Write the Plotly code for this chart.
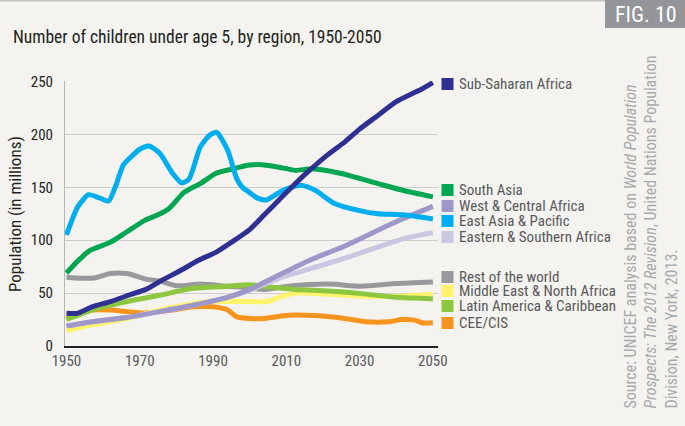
import plotly.graph_objects as go

# ---------------- data (millions of children under 5) ----------------
ssa_years = [1950, 1953, 1957, 1962, 1967, 1972, 1976, 1982, 1986, 1991, 1995, 2000, 2004, 2008, 2012, 2016, 2021, 2026, 2030, 2035, 2040, 2044, 2047, 2050]
ssa_vals = [31, 31, 37, 42, 48, 54, 62, 73, 81, 89, 98, 110, 124, 138, 152, 165, 180, 193, 205, 218, 231, 238, 243, 249]

sa_years = [1950, 1953, 1956.5, 1962, 1966.5, 1971.5, 1975, 1978, 1982, 1986.5, 1991, 1995.5, 2000, 2002.5, 2008, 2012.5, 2017, 2025, 2035, 2042, 2050]
sa_vals = [69, 80, 90.5, 98, 108, 119, 124, 130, 145, 153.5, 163.5, 167.5, 171, 171.5, 169, 166, 167.5, 163, 153.5, 147, 141]

wca_years = [1950, 1957, 1966.5, 1975.5, 1984.5, 1994, 2000, 2008, 2017, 2026, 2035, 2042, 2050]
wca_vals = [19, 23, 27, 32.5, 38.5, 46, 53.5, 67, 82, 94.5, 109.5, 120.5, 132]

eap_years = [1950, 1953, 1956, 1959, 1961.5, 1963.5, 1965.5, 1968, 1970, 1972.5, 1975.5, 1979, 1981.5, 1983.5, 1986.5, 1989, 1991, 1994, 1996.5, 1998, 2000, 2002, 2004.5, 2009, 2014, 2018, 2023, 2030, 2035, 2042, 2050]
eap_vals = [105, 131, 143, 140, 137, 152, 171, 180, 186, 189, 182, 163, 154, 158, 188, 199, 202, 185, 158, 150, 145, 140, 138, 147, 152, 147, 135, 128, 125, 124, 120]

esa_years = [1950, 1957, 1966.5, 1975.5, 1984.5, 1994, 2000, 2008, 2017, 2026, 2035, 2042, 2050]
esa_vals = [19, 23, 27, 32.5, 38.5, 46, 52.5, 64, 73.5, 83, 93.5, 101.5, 107]

row_years = [1950, 1954, 1958, 1962, 1966.5, 1972, 1975.5, 1980, 1986.5, 1994, 2000, 2004, 2010.5, 2021.5, 2030.5, 2040, 2050]
row_vals = [65, 64, 64.5, 68.5, 68.5, 63, 61.5, 57, 58.5, 56.5, 55, 53.5, 56.5, 58.5, 56.5, 59, 60.5]

mena_years = [1950, 1957, 1966.5, 1975.5, 1984.5, 1989, 1995, 2000, 2005, 2008, 2013, 2021.5, 2030.5, 2040, 2050]
mena_vals = [14.5, 20, 26, 34, 40, 42, 42, 42, 42, 46, 50, 49, 47, 47, 49]

lac_years = [1950, 1957, 1966.5, 1975.5, 1984.5, 1994, 2000, 2005, 2012.5, 2021.5, 2030.5, 2040, 2050]
lac_vals = [25, 34, 42, 48, 54.5, 56.5, 58, 56, 53.5, 52, 49.5, 46, 44.5]

cee_years = [1950, 1954, 1957, 1962, 1966.5, 1971, 1975.5, 1980, 1984.5, 1990, 1994, 1996.5, 2000, 2004, 2010.5, 2019, 2026, 2031.5, 2038, 2041.5, 2045, 2047, 2050]
cee_vals = [26, 31, 34, 34, 32.5, 31, 32.5, 34.5, 37, 37, 34, 27.5, 26, 26, 29, 28.5, 26, 23, 23, 25, 24.5, 22, 22]

x_ticks = [1950, 1970, 1990, 2010, 2030, 2050]
y_ticks = [0, 50, 100, 150, 200, 250]

# ---------------- styling ----------------
FONT = ("Roboto Condensed, Noto Sans Condensed, Open Sans Condensed, "
        "Liberation Sans Narrow, DejaVu Sans Condensed, Roboto, sans-serif")
BG = "#f4f3ef"
W, H = 685, 426
L, R, T, B = 65, 438, 81, 346

def px(x):
    return (x - L) / (R - L)

def py(y):
    return (B - y) / (B - T)

# draw order bottom -> top
series = [
    ("CEE/CIS", cee_years, cee_vals, "#f7941d"),
    ("Middle East & North Africa", mena_years, mena_vals, "#fff36b"),
    ("Rest of the world", row_years, row_vals, "#98999b"),
    ("Latin America & Caribbean", lac_years, lac_vals, "#8dc63f"),
    ("Eastern & Southern Africa", esa_years, esa_vals, "#cbc7e3"),
    ("West & Central Africa", wca_years, wca_vals, "#9e97ca"),
    ("South Asia", sa_years, sa_vals, "#00a651"),
    ("East Asia & Pacific", eap_years, eap_vals, "#00aeef"),
    ("Sub-Saharan Africa", ssa_years, ssa_vals, "#2e3192"),
]

legend_order = [
    ("Sub-Saharan Africa", "#2e3192", 84),
    ("South Asia", "#00a651", 190),
    ("West & Central Africa", "#9e97ca", 206),
    ("East Asia & Pacific", "#00aeef", 221),
    ("Eastern & Southern Africa", "#cbc7e3", 237),
    ("Rest of the world", "#98999b", 277),
    ("Middle East & North Africa", "#fff36b", 291),
    ("Latin America & Caribbean", "#8dc63f", 306),
    ("CEE/CIS", "#f7941d", 323),
]

fig = go.Figure()
for name, xs, ys, col in series:
    fig.add_trace(go.Scatter(
        x=xs, y=ys, mode="lines", name=name,
        line=dict(color=col, width=5, shape="spline", smoothing=0.6),
        showlegend=False, hoverinfo="x+y+name",
    ))

shapes = []
annotations = []

# top rule
shapes.append(dict(type="line", xref="paper", yref="paper",
                   x0=px(0), x1=px(W), y0=py(0.5), y1=py(0.5),
                   line=dict(color="#c2c2c2", width=2)))
# FIG box
shapes.append(dict(type="rect", xref="paper", yref="paper",
                   x0=px(605), x1=px(W), y0=py(28), y1=py(0),
                   fillcolor="#939598", line=dict(width=0)))
annotations.append(dict(text="FIG. 10", xref="paper", yref="paper",
                        x=px(613), y=py(14), xanchor="left", yanchor="middle",
                        showarrow=False, font=dict(family=FONT, size=22, color="#ffffff")))

# title
annotations.append(dict(text="Number of children under age 5, by region, 1950-2050",
                        xref="paper", yref="paper", x=px(11), y=py(37),
                        xanchor="left", yanchor="middle", showarrow=False,
                        font=dict(family=FONT, size=17.5, color="#231f20")))

# y-axis title
annotations.append(dict(text="Population (in millions)", xref="paper", yref="paper",
                        x=px(15), y=py(214), xanchor="center", yanchor="middle",
                        textangle=-90, showarrow=False,
                        font=dict(family=FONT, size=17, color="#231f20")))

# legend squares and labels
for name, col, ypix in legend_order:
    shapes.append(dict(type="rect", xref="paper", yref="paper",
                       x0=px(441.5), x1=px(453.5), y0=py(ypix + 6), y1=py(ypix - 6),
                       fillcolor=col, line=dict(width=0)))
    annotations.append(dict(text=name, xref="paper", yref="paper",
                            x=px(457), y=py(ypix), xanchor="left", yanchor="middle",
                            showarrow=False,
                            font=dict(family=FONT, size=15, color="#58595b")))

# source note (rotated)
annotations.append(dict(
    text=("Source: UNICEF analysis based on <i>World Population</i><br>"
          "<i>Prospects: The 2012 Revision</i>, United Nations Population<br>"
          "Division, New York, 2013."),
    xref="paper", yref="paper", x=px(651), y=py(411),
    xanchor="center", yanchor="bottom", textangle=-90, align="left",
    showarrow=False, font=dict(family=FONT, size=16, color="#a7a9ac")))

fig.update_layout(
    width=W, height=H,
    margin=dict(l=L, r=W - R, t=T, b=H - B, pad=0, autoexpand=False),
    paper_bgcolor=BG, plot_bgcolor=BG,
    font=dict(family=FONT, color="#414042"),
    shapes=shapes, annotations=annotations,
    showlegend=False,
)
fig.update_xaxes(
    range=[1949.6, 2051.4], tickvals=x_ticks, ticktext=[str(v) for v in x_ticks],
    showgrid=False, zeroline=False, showline=True, linecolor="#231f20", linewidth=1.5,
    ticks="", automargin=False, tickfont=dict(family=FONT, size=15, color="#58595b"),
)
fig.update_yaxes(
    range=[0, 250.5], tickvals=y_ticks, ticktext=[str(v) for v in y_ticks],
    showgrid=True, gridcolor="#cdcdcd", gridwidth=1,
    zeroline=False, showline=True, linecolor="#b5b5b5", linewidth=1,
    ticks="", ticklabelstandoff=8, automargin=False,
    tickfont=dict(family=FONT, size=15, color="#231f20"),
)

fig.write_html(
    "out.html",
    config={"displayModeBar": False},
    post_script="document.body.style.margin='0';document.body.style.background='%s';" % BG,
)
